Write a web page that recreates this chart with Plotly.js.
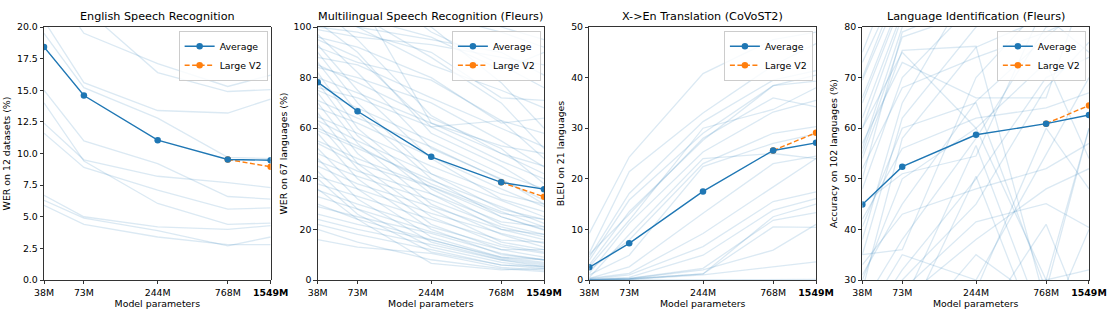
<!DOCTYPE html>
<html>
<head>
<meta charset="utf-8">
<script src="https://cdn.plot.ly/plotly-3.0.1.min.js"></script>
<style>html,body{margin:0;padding:0;background:#fff;}#chart{width:1117px;height:327px;}</style>
</head>
<body>
<div id="chart"></div>
<script>
// ---------- data ----------
const params = [38, 73, 244, 768, 1549];
const tickLabels = ["38M", "73M", "244M", "768M", "1549M"];
const v2Params = [768, 1549];

const panelTitles = ["English Speech Recognition", "Multilingual Speech Recognition (Fleurs)", "X->En Translation (CoVoST2)", "Language Identification (Fleurs)"];
const yTitles = ["WER on 12 datasets (%)", "WER on 67 languages (%)", "BLEU on 21 languages", "Accuracy on 102 languages (%)"];

const englishAvg = [18.42, 14.58, 11.05, 9.53, 9.47];
const englishV2 = [9.53, 8.95];
const englishDatasets = [
  [24.0, 19.5, 17.1, 15.3, 16.2],
  [26.0, 21.5, 16.4, 14.9, 15.05],
  [20.5, 15.6, 13.4, 13.2, 14.3],
  [19.5, 15.2, 12.8, 9.7, 9.6],
  [15.0, 11.0, 9.2, 6.6, 6.4],
  [12.4, 9.5, 8.2, 7.7, 7.3],
  [11.6, 8.9, 7.1, 5.6, 5.7],
  [14.0, 9.4, 6.05, 4.4, 4.5],
  [6.7, 5.0, 4.2, 4.0, 4.3],
  [6.3, 4.9, 3.9, 2.7, 3.4],
  [5.9, 4.4, 3.4, 2.8, 2.8],
  [32.0, 28.0, 25.0, 22.5, 23.0]
];

const multiAvg = [78.2, 66.7, 48.7, 38.6, 35.9];
const multiV2 = [38.6, 32.9];
const multiLanguages = [
  [120, 115, 110, 100, 95], [130, 125, 105, 98, 92], [110, 104, 96, 83, 90], [105, 100, 95, 90, 81],
  [99, 96, 93, 88, 85], [100, 98, 90, 72, 71], [96, 92, 80, 62, 64], [115, 105, 88, 70, 52],
  [92, 86, 79, 63, 58], [88, 85, 72, 60, 52.6], [84, 80, 70, 55, 44.7], [80, 74, 62, 50, 45],
  [76, 72, 60.5, 47, 40], [75, 68, 55, 42, 36], [71, 64, 52.6, 39.5, 31.6], [68, 62, 48.7, 36, 29],
  [64.5, 58, 45, 34, 30], [63, 55, 42, 31.6, 25], [59, 52, 39.5, 29, 22.4], [55, 48, 37, 26.3, 24],
  [54, 46, 36.8, 25, 19.7], [50, 43, 34, 23, 21], [47, 41, 31.6, 21, 17], [45, 38, 29, 20, 18],
  [41, 36, 26.3, 18.4, 14.5], [38, 33, 24, 15.8, 15], [35.5, 30, 21, 13.2, 10.5], [33, 28, 19, 12, 12],
  [29, 25, 18.4, 10.5, 7.9], [26, 22, 15.8, 9, 8], [24, 20, 14, 7.9, 5.3], [22, 18, 12, 5.9, 5.5],
  [16, 13, 10.5, 5, 3.9], [20, 15, 8, 4.5, 3.3], [30, 24, 6.6, 4, 4.5], [108, 95, 65, 50, 42],
  [102, 90, 58, 45, 35], [97, 82, 52, 40, 30], [93, 75, 48, 32, 27], [90, 70, 42, 28, 24],
  [86, 66, 40, 25, 20], [82, 60, 36, 22, 18], [78, 57, 34, 20, 16], [74, 54, 30, 18, 13],
  [70, 50, 28, 15, 12], [66, 46, 25, 14, 11], [62, 44, 22, 12, 9], [58, 40, 20, 10, 8],
  [52, 36, 17, 9, 7], [48, 32, 15, 8, 6], [43, 28, 13, 7, 5], [40, 26, 11, 6, 4.5],
  [36, 24, 16, 8.5, 6.5], [125, 112, 62, 53, 50], [112, 100, 85, 75, 68], [118, 108, 100, 78, 60],
  [140, 120, 98, 85, 76], [95, 88, 60.5, 63, 48], [85, 78, 64, 52, 38], [60, 53, 38, 27, 21]
];

const transAvg = [2.5, 7.24, 17.5, 25.6, 27.1];
const transV2 = [25.6, 29.1];
const transLanguages = [
  [9.2, 24.3, 40.8, 47.5, 49.0], [5.3, 21.4, 33.0, 42.4, 46.7], [4.5, 17.1, 31.3, 39.5, 41.4],
  [3.9, 15.8, 29.0, 38.4, 40.5], [3.0, 13.5, 27.6, 38.4, 39.3], [2.6, 11.8, 30.0, 33.7, 38.0],
  [1.3, 11.2, 25.3, 33.2, 35.5], [5.0, 13.0, 28.0, 36.0, 34.2], [2.0, 7.9, 23.0, 29.0, 30.3],
  [1.0, 4.9, 22.4, 27.0, 28.9], [0.5, 9.0, 24.0, 25.0, 24.0], [0.3, 2.6, 13.2, 23.0, 24.5],
  [0.3, 1.3, 9.2, 18.4, 24.0], [0.2, 1.0, 6.6, 15.5, 17.4], [0.1, 0.5, 4.9, 13.8, 16.1],
  [0.1, 0.3, 2.3, 11.8, 13.3], [0.0, 0.2, 1.2, 10.5, 10.4], [0.0, 0.2, 1.2, 12.5, 15.0],
  [0.0, 0.1, 1.0, 2.6, 3.6], [0.0, 0.0, 0.1, 0.1, 0.1], [0.0, 0.3, 2.0, 5.9, 11.0]
];

const langIdAvg = [44.9, 52.4, 58.7, 60.9, 62.6];
const langIdV2 = [60.9, 64.5];
const langIdLanguages = [
  [75, 95, 98, 99, 99], [73, 90, 97, 98, 99], [69.5, 88, 95, 97, 98], [65, 85, 93, 96, 97],
  [62, 83, 92, 95, 96], [56, 80, 90, 94, 96], [54, 75.4, 76.2, 25, 20], [57, 73, 66, 66, 90],
  [45, 51, 54.5, 85, 90], [20, 28, 41.5, 45.1, 40.4], [10, 20, 50.5, 15, 10], [15, 25, 56.6, 20, 15],
  [5, 10, 20, 41, 20], [30, 50, 60, 73, 54], [40.5, 60, 65, 28, 60], [35, 36, 70, 85, 88],
  [31, 45, 65.3, 78, 85], [25, 38, 58, 80, 82], [20, 32, 50, 70, 74], [50, 79, 85, 90, 92],
  [60, 82, 88, 92, 93], [55, 78, 83, 89, 91], [48, 70, 85, 88, 90], [35, 62, 80, 86, 88],
  [28, 58, 76, 82, 75], [10, 25, 29, 30, 32], [2, 5, 10, 20, 40], [5, 8, 28, 60, 48],
  [12, 18, 35, 25, 30], [70, 90, 96, 97, 98], [15, 30, 45, 68, 77], [8, 15, 20, 30, 60],
  [22, 35, 30, 55, 70], [60, 75, 60, 30, 25], [38, 65, 90, 85, 80], [66, 86, 94, 96, 97],
  [52, 68, 74, 79, 83], [42, 56, 62, 64, 67], [33, 43, 48, 52, 57], [18, 26, 38, 48, 52]
];

const yRanges = [[0, 20], [0, 100], [0, 50], [30, 80]];
const yTicks = [[0, 2.5, 5, 7.5, 10, 12.5, 15, 17.5, 20], [0, 20, 40, 60, 80, 100], [0, 10, 20, 30, 40, 50], [30, 40, 50, 60, 70, 80]];
const yFormats = [".1f", "d", "d", "d"];

// ---------- build ----------
const BLUE = "#1f77b4", ORANGE = "#ff7f0e", FAINT = "rgba(31,119,180,0.16)";
const FONT = "DejaVu Sans, sans-serif";
const panels = [
  {avg: englishAvg, v2: englishV2, lines: englishDatasets},
  {avg: multiAvg, v2: multiV2, lines: multiLanguages},
  {avg: transAvg, v2: transV2, lines: transLanguages},
  {avg: langIdAvg, v2: langIdV2, lines: langIdLanguages}
];
const domains = [[0, 0.2169], [0.2619, 0.4785], [0.5218, 0.7388], [0.7831, 1]];
const legendX = [0.2140, 0.4755, 0.7358, 0.9970];

const traces = [];
const layout = {
  width: 1117, height: 327,
  margin: {l: 44, r: 28, t: 27, b: 47},
  paper_bgcolor: "#fff", plot_bgcolor: "#fff",
  font: {family: FONT, size: 9.4, color: "#000"},
  annotations: []
};

panels.forEach((p, i) => {
  const n = i === 0 ? "" : String(i + 1);
  const xa = "x" + n, ya = "y" + n;
  const lg = "legend" + n;
  p.lines.forEach(vals => traces.push({
    x: params, y: vals, xaxis: xa, yaxis: ya, type: "scatter", mode: "lines",
    line: {color: FAINT, width: 1.3}, showlegend: false, hoverinfo: "skip"
  }));
  traces.push({
    x: v2Params, y: p.v2, xaxis: xa, yaxis: ya, type: "scatter", mode: "lines+markers",
    name: "Large V2", legend: lg, legendrank: 2,
    line: {color: ORANGE, width: 1.4, dash: "5px,2.5px"}, marker: {color: ORANGE, size: 6.5}
  });
  traces.push({
    x: params, y: p.avg, xaxis: xa, yaxis: ya, type: "scatter", mode: "lines+markers",
    name: "Average", legend: lg, legendrank: 1,
    line: {color: BLUE, width: 1.4}, marker: {color: BLUE, size: 6.5}
  });

  layout["xaxis" + n] = {
    domain: domains[i], anchor: ya, type: "log",
    range: [Math.log10(params[0]), Math.log10(params[params.length - 1])],
    tickmode: "array", tickvals: params,
    ticktext: tickLabels.map((t, k) => k === tickLabels.length - 1 ? "<b>" + t + "</b>" : t),
    ticks: "outside", ticklen: 3.5, tickwidth: 0.8, tickcolor: "#000",
    showline: true, mirror: true, linecolor: "#000", linewidth: 0.8,
    showgrid: false, zeroline: false, tickfont: {size: 9.4},
    title: {text: "Model parameters", font: {size: 9.4}, standoff: 2}
  };
  layout["yaxis" + n] = {
    domain: [0, 1], anchor: xa, range: yRanges[i],
    tickmode: "array", tickvals: yTicks[i], tickformat: yFormats[i],
    ticks: "outside", ticklen: 3.5, tickwidth: 0.8, tickcolor: "#000",
    showline: true, mirror: true, linecolor: "#000", linewidth: 0.8,
    showgrid: false, zeroline: false, tickfont: {size: 9.4},
    title: {text: yTitles[i], font: {size: 9.4}, standoff: 4}
  };
  layout[lg] = {
    x: legendX[i], y: 0.985, xanchor: "right", yanchor: "top",
    bgcolor: "rgba(255,255,255,0.8)", bordercolor: "#cccccc", borderwidth: 1,
    font: {size: 9.4}, itemwidth: 30, tracegroupgap: 0
  };
  layout.annotations.push({
    text: panelTitles[i], xref: "paper", yref: "paper",
    x: (domains[i][0] + domains[i][1]) / 2, y: 1.04, xanchor: "center", yanchor: "middle",
    showarrow: false, font: {size: 11.2}
  });
});

Plotly.newPlot("chart", traces, layout, {displayModeBar: false, staticPlot: true});
</script>
</body>
</html>
